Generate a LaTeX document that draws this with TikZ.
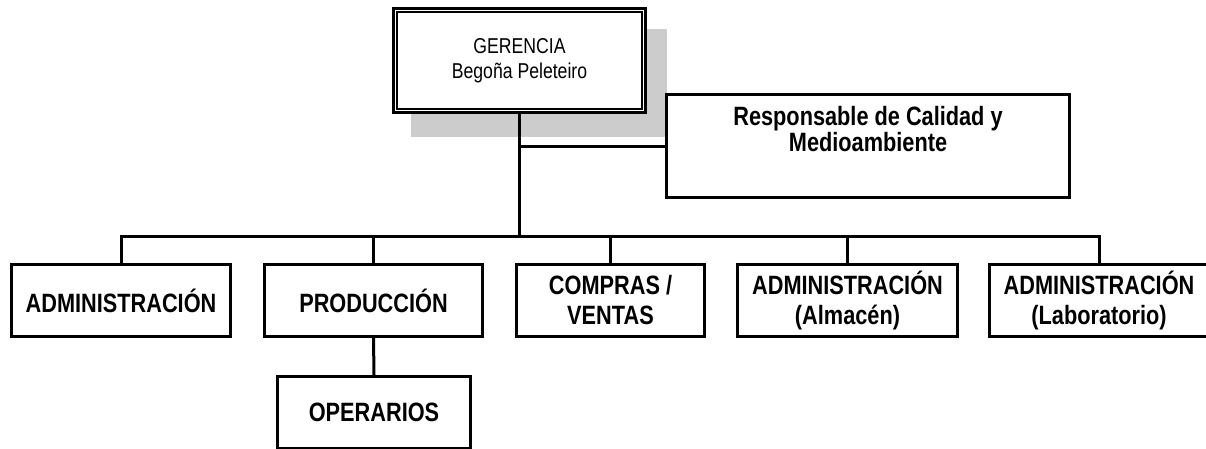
\documentclass[tikz,border=0pt]{standalone}
\usepackage{fontspec}
\setmainfont{Liberation Sans}[FakeStretch=0.82]
\usetikzlibrary{calc}
\begin{document}
\begin{tikzpicture}[x=1pt,y=-1pt,
  box/.style={draw=black,line width=2.8pt,fill=white,inner sep=0pt,align=center,
    font=\bfseries\fontsize{26.5}{30}\selectfont},
  link/.style={draw=black,line width=3pt}]
\useasboundingbox (0,0) rectangle (1206,448);
% shadow of GERENCIA
\fill[gray!40] (411,29) rectangle (667,137);
% GERENCIA double frame
\node[draw=black,line width=2.7pt,fill=white,minimum width=252.3pt,minimum height=104.3pt,inner sep=0pt,
  align=center,font=\fontsize{21.5}{25}\selectfont] (ger) at (519.5,60.5)
  {GERENCIA\\Bego\~na Peleteiro};
\draw[line width=1.8pt] ($(ger.north west)+(5.2,5.2)$) rectangle ($(ger.south east)+(-5.2,-5.2)$);
% Responsable
\node[box,minimum width=403.2pt,minimum height=103.2pt,font=\bfseries\fontsize{26.5}{26}\selectfont] (resp) at (868,146)
  {Responsable de Calidad y\\Medioambiente\\\strut};
% level boxes
\node[box,minimum width=219.2pt,minimum height=72.2pt] (adm) at (121,300.5) {ADMINISTRACIÓN};
\node[box,minimum width=218.2pt,minimum height=72.2pt] (prod) at (373.5,300.5) {PRODUCCIÓN};
\node[box,minimum width=188.2pt,minimum height=72.2pt] (comp) at (610.5,300.5) {COMPRAS /\\VENTAS};
\node[box,minimum width=220.2pt,minimum height=72.2pt] (alm) at (847.5,300.5) {ADMINISTRACIÓN\\(Almacén)};
\node[box,minimum width=219.2pt,minimum height=72.2pt] (lab) at (1099,300.5) {ADMINISTRACIÓN\\(Laboratorio)};
\node[box,minimum width=193.2pt,minimum height=72.2pt] (oper) at (374,412.5) {OPERARIOS};
% connectors
\coordinate (bus) at (520,236);
\draw[link] (ger.south) -- (ger.south |- bus);
\draw[link] (ger.south |- resp.west) -- (resp.west);
\draw[link] (adm.north) -- (adm.north |- bus) -- (lab.north |- bus) -- (lab.north);
\draw[link] (prod.north) -- (prod.north |- bus);
\draw[link] (comp.north) -- (comp.north |- bus);
\draw[link] (alm.north) -- (alm.north |- bus);
\draw[link] (prod.south) -- (oper.north);
\end{tikzpicture}
\end{document}
